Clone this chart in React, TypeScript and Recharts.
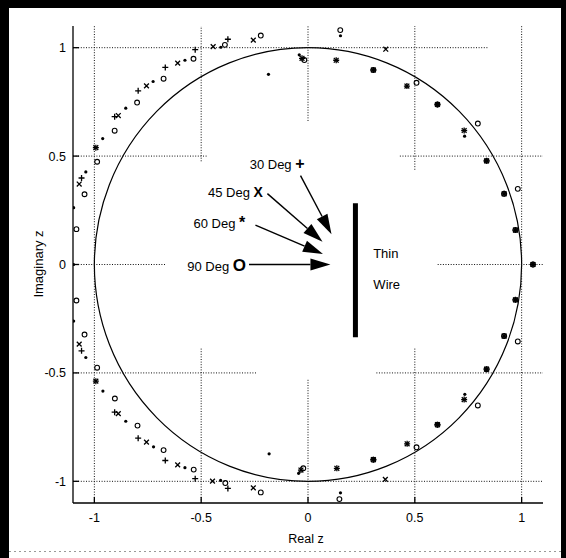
import React from 'react'
import { ScatterChart, Scatter, XAxis, YAxis, ReferenceLine, ReferenceArea, ReferenceDot } from 'recharts'

type Pt = { x: number; y: number }

const FONT = '"Liberation Sans", Arial, Helvetica, sans-serif'

const axisTicks = [-1, -0.5, 0, 0.5, 1]

// 30 degree incidence (+)
const poles30: Pt[] = [
  { x: -0.375, y: 1.039 }, { x: -0.528, y: 0.991 }, { x: -0.668, y: 0.909 }, { x: -0.795, y: 0.801 },
  { x: -0.905, y: 0.682 }, { x: -0.993, y: 0.539 }, { x: -1.06, y: 0.399 }, { x: -0.028, y: 0.951 },
  { x: 0.132, y: 0.942 }, { x: 0.306, y: 0.897 }, { x: 0.463, y: 0.823 }, { x: 0.606, y: 0.738 },
  { x: 0.731, y: 0.618 }, { x: 0.836, y: 0.478 }, { x: 0.918, y: 0.326 }, { x: 0.971, y: 0.159 },
  { x: 1.053, y: 0 },
  { x: -0.375, y: -1.033 }, { x: -0.528, y: -0.988 }, { x: -0.668, y: -0.904 }, { x: -0.795, y: -0.801 },
  { x: -0.905, y: -0.681 }, { x: -0.993, y: -0.538 }, { x: -1.06, y: -0.398 }, { x: -0.033, y: -0.948 },
  { x: 0.135, y: -0.94 }, { x: 0.306, y: -0.9 }, { x: 0.464, y: -0.827 }, { x: 0.606, y: -0.739 },
  { x: 0.731, y: -0.623 }, { x: 0.836, y: -0.483 }, { x: 0.918, y: -0.33 }, { x: 0.971, y: -0.163 },
]

// 45 degree incidence (x)
const poles45: Pt[] = [
  { x: -0.256, y: 1.035 }, { x: -0.444, y: 1.005 }, { x: -0.61, y: 0.929 }, { x: -0.756, y: 0.824 },
  { x: -0.888, y: 0.687 }, { x: -0.993, y: 0.539 }, { x: -1.071, y: 0.371 }, { x: -0.028, y: 0.951 },
  { x: 0.132, y: 0.942 }, { x: 0.364, y: 0.993 }, { x: 0.306, y: 0.897 }, { x: 0.463, y: 0.823 },
  { x: 0.606, y: 0.738 }, { x: 0.731, y: 0.618 }, { x: 0.836, y: 0.478 }, { x: 0.918, y: 0.326 },
  { x: 0.971, y: 0.159 }, { x: 1.053, y: 0 },
  { x: -0.256, y: -1.03 }, { x: -0.447, y: -0.999 }, { x: -0.61, y: -0.924 }, { x: -0.756, y: -0.819 },
  { x: -0.888, y: -0.688 }, { x: -0.993, y: -0.538 }, { x: -1.071, y: -0.367 }, { x: -0.033, y: -0.948 },
  { x: 0.135, y: -0.94 }, { x: 0.362, y: -0.991 }, { x: 0.306, y: -0.9 }, { x: 0.464, y: -0.827 },
  { x: 0.606, y: -0.739 }, { x: 0.731, y: -0.623 }, { x: 0.836, y: -0.483 }, { x: 0.918, y: -0.33 },
  { x: 0.971, y: -0.163 },
]

// 60 degree incidence (*)
const poles60: Pt[] = [
  { x: -0.185, y: 0.877 }, { x: -0.408, y: 1.002 }, { x: -0.576, y: 0.942 }, { x: -0.725, y: 0.844 },
  { x: -0.853, y: 0.721 }, { x: -0.961, y: 0.581 }, { x: -1.04, y: 0.427 }, { x: -1.097, y: 0.262 },
  { x: -1.097, y: 0 }, { x: -0.041, y: 0.967 }, { x: 0.152, y: 1.055 }, { x: 0.306, y: 0.897 },
  { x: 0.463, y: 0.823 }, { x: 0.606, y: 0.738 }, { x: 0.733, y: 0.592 }, { x: 0.836, y: 0.478 },
  { x: 0.918, y: 0.326 }, { x: 0.971, y: 0.159 }, { x: 1.053, y: 0 },
  { x: -0.182, y: -0.873 }, { x: -0.409, y: -0.996 }, { x: -0.576, y: -0.937 }, { x: -0.723, y: -0.841 },
  { x: -0.853, y: -0.723 }, { x: -0.96, y: -0.584 }, { x: -1.04, y: -0.429 }, { x: -1.097, y: -0.261 },
  { x: -0.044, y: -0.963 }, { x: 0.152, y: -1.053 }, { x: 0.306, y: -0.9 }, { x: 0.464, y: -0.827 },
  { x: 0.606, y: -0.739 }, { x: 0.734, y: -0.599 }, { x: 0.836, y: -0.483 }, { x: 0.918, y: -0.33 },
  { x: 0.971, y: -0.163 },
]

// 90 degree incidence (o)
const poles90: Pt[] = [
  { x: -0.221, y: 1.056 }, { x: -0.389, y: 1.013 }, { x: -0.536, y: 0.949 }, { x: -0.676, y: 0.857 },
  { x: -0.8, y: 0.747 }, { x: -0.905, y: 0.617 }, { x: -0.987, y: 0.474 }, { x: -1.046, y: 0.324 },
  { x: -1.084, y: 0.163 }, { x: -0.017, y: 0.943 }, { x: 0.151, y: 1.081 }, { x: 0.508, y: 0.838 },
  { x: 0.795, y: 0.65 }, { x: 0.982, y: 0.349 }, { x: 1.053, y: 0 },
  { x: 0.306, y: 0.897 }, { x: 0.606, y: 0.738 }, { x: 0.836, y: 0.478 }, { x: 0.918, y: 0.326 },
  { x: 0.971, y: 0.159 },
  { x: -1.084, y: -0.166 }, { x: -1.046, y: -0.323 }, { x: -0.987, y: -0.476 }, { x: -0.904, y: -0.618 },
  { x: -0.798, y: -0.743 }, { x: -0.676, y: -0.856 }, { x: -0.535, y: -0.946 }, { x: -0.387, y: -1.008 },
  { x: -0.221, y: -1.051 }, { x: -0.022, y: -0.94 }, { x: 0.147, y: -1.082 }, { x: 0.508, y: -0.843 },
  { x: 0.795, y: -0.65 }, { x: 0.982, y: -0.355 },
  { x: 0.306, y: -0.9 }, { x: 0.606, y: -0.739 }, { x: 0.836, y: -0.483 }, { x: 0.918, y: -0.33 },
  { x: 0.971, y: -0.163 },
]

// visible pieces of the dotted grid
const hGrid = [
  { y: 1, x1: -1.1, x2: 0.84 },
  { y: 0.5, x1: -1.1, x2: -0.47 }, { y: 0.5, x1: 0.43, x2: 1.1 },
  { y: 0, x1: -1.1, x2: -0.665 }, { y: 0, x1: 0.607, x2: 1.1 },
  { y: -0.5, x1: -1.1, x2: -0.237 }, { y: -0.5, x1: 0.32, x2: 1.1 },
  { y: -1, x1: -1.1, x2: 1.1 },
]
const vGrid = [
  { x: -1, y1: -1.1, y2: 1.1 },
  { x: -0.5, y1: 0.476, y2: 1.1 }, { x: -0.5, y1: -1.1, y2: -0.383 },
  { x: 0, y1: 0.662, y2: 1.1 }, { x: 0, y1: -1.1, y2: -0.53 },
  { x: 0.5, y1: 0.437, y2: 1.1 }, { x: 0.5, y1: -1.1, y2: -0.383 },
  { x: 1, y1: -1.1, y2: 1.1 },
]

// annotation arrows: tail -> head
const arrows = [
  { x1: -0.035, y1: 0.41, x2: 0.11, y2: 0.14 },
  { x1: -0.19, y1: 0.327, x2: 0.068, y2: 0.105 },
  { x1: -0.246, y1: 0.182, x2: 0.07, y2: 0.048 },
  { x1: -0.276, y1: 0, x2: 0.105, y2: 0 },
]

const angleLabels = [
  { text: '30 Deg', glyph: '+', size: 16, x: -0.273, y: 0.462 },
  { text: '45 Deg', glyph: 'X', size: 14, x: -0.468, y: 0.333 },
  { text: '60 Deg', glyph: '*', size: 16, x: -0.536, y: 0.189 },
  { text: '90 Deg', glyph: 'O', size: 17, x: -0.565, y: -0.007 },
]

const wireLabels = [
  { text: 'Thin', x: 0.305, y: 0.05 },
  { text: 'Wire', x: 0.306, y: -0.09 },
]

const wire = { x: 0.222, top: 0.282, bottom: -0.336 }

const PlusMark = (p: any) => (
  <path d={`M${p.cx - 3},${p.cy}h6M${p.cx},${p.cy - 3}v6`} stroke="#000" strokeWidth={1.3} fill="none" />
)
const CrossMark = (p: any) => (
  <path
    d={`M${p.cx - 2.4},${p.cy - 2.4}l4.8,4.8M${p.cx - 2.4},${p.cy + 2.4}l4.8,-4.8`}
    stroke="#000"
    strokeWidth={1.3}
    fill="none"
  />
)
const StarMark = (p: any) => <circle cx={p.cx} cy={p.cy} r={1.6} fill="#000" />
const RingMark = (p: any) => <circle cx={p.cx} cy={p.cy} r={2.4} fill="none" stroke="#000" strokeWidth={1.1} />

const Arrow = (p: any) => {
  const dx = p.x2 - p.x1
  const dy = p.y2 - p.y1
  const len = Math.sqrt(dx * dx + dy * dy)
  const ux = dx / len
  const uy = dy / len
  const head = 20
  const half = 6
  const bx = p.x2 - ux * head
  const by = p.y2 - uy * head
  return (
    <g>
      <line x1={p.x1} y1={p.y1} x2={bx} y2={by} stroke="#000" strokeWidth={1.4} />
      <polygon
        points={`${p.x2},${p.y2} ${bx - uy * half},${by + ux * half} ${bx + uy * half},${by - ux * half}`}
        fill="#000"
      />
    </g>
  )
}

const tickStyle = { fontSize: 12.5, fill: '#000', fontFamily: FONT }

export default function App() {
  return (
    <div style={{ position: 'absolute', left: 0, top: 0, width: 566, height: 558, background: '#fff' }}>
      <ScatterChart width={566} height={558} margin={{ top: 26, right: 23, bottom: 25, left: 43 }}>
        <XAxis
          xAxisId="b"
          type="number"
          dataKey="x"
          domain={[-1.1, 1.1]}
          allowDataOverflow
          ticks={axisTicks}
          height={30}
          tickSize={-6}
          tickMargin={16}
          stroke="#000"
          strokeWidth={1.3}
          tick={tickStyle}
        />
        <XAxis
          xAxisId="t"
          orientation="top"
          type="number"
          dataKey="x"
          domain={[-1.1, 1.1]}
          allowDataOverflow
          ticks={axisTicks}
          height={0}
          tickSize={-6}
          tick={false}
          stroke="#000"
          strokeWidth={1.3}
        />
        <YAxis
          yAxisId="l"
          type="number"
          dataKey="y"
          domain={[-1.1, 1.1]}
          allowDataOverflow
          ticks={axisTicks}
          width={30}
          tickSize={-6}
          tickMargin={13}
          stroke="#000"
          strokeWidth={1.3}
          tick={tickStyle}
        />
        <YAxis
          yAxisId="r"
          orientation="right"
          type="number"
          dataKey="y"
          domain={[-1.1, 1.1]}
          allowDataOverflow
          ticks={axisTicks}
          width={0}
          tickSize={-6}
          tick={false}
          stroke="#000"
          strokeWidth={1.3}
        />

        {hGrid.map((g, i) => (
          <ReferenceLine
            key={'h' + i}
            xAxisId="b"
            yAxisId="l"
            ifOverflow="visible"
            segment={[{ x: g.x1, y: g.y }, { x: g.x2, y: g.y }]}
            stroke="#111"
            strokeWidth={1}
            strokeDasharray="1 1.6"
          />
        ))}
        {vGrid.map((g, i) => (
          <ReferenceLine
            key={'v' + i}
            xAxisId="b"
            yAxisId="l"
            ifOverflow="visible"
            segment={[{ x: g.x, y: g.y1 }, { x: g.x, y: g.y2 }]}
            stroke="#111"
            strokeWidth={1}
            strokeDasharray="1 1.6"
          />
        ))}

        {/* unit circle */}
        <ReferenceArea
          xAxisId="b"
          yAxisId="l"
          x1={-1}
          x2={1}
          y1={-1}
          y2={1}
          ifOverflow="visible"
          shape={(p: any) => (
            <ellipse
              cx={p.x + p.width / 2}
              cy={p.y + p.height / 2}
              rx={Math.abs(p.width) / 2}
              ry={Math.abs(p.height) / 2}
              fill="none"
              stroke="#000"
              strokeWidth={1.2}
            />
          )}
        />

        {/* thin wire */}
        <ReferenceLine
          xAxisId="b"
          yAxisId="l"
          ifOverflow="visible"
          segment={[{ x: wire.x, y: wire.top }, { x: wire.x, y: wire.bottom }]}
          stroke="#000"
          strokeWidth={5}
        />

        {arrows.map((a, i) => (
          <ReferenceLine
            key={'a' + i}
            xAxisId="b"
            yAxisId="l"
            ifOverflow="visible"
            segment={[{ x: a.x1, y: a.y1 }, { x: a.x2, y: a.y2 }]}
            shape={Arrow}
          />
        ))}

        {angleLabels.map((l, i) => (
          <ReferenceDot
            key={'l' + i}
            xAxisId="b"
            yAxisId="l"
            x={l.x}
            y={l.y}
            r={1}
            ifOverflow="visible"
            shape={(p: any) => (
              <text x={p.cx} y={p.cy} dy="0.36em" fontFamily={FONT} fontSize={13} fill="#000">
                {l.text}{' '}
                <tspan fontWeight="bold" fontSize={l.size}>
                  {l.glyph}
                </tspan>
              </text>
            )}
          />
        ))}
        {wireLabels.map((l, i) => (
          <ReferenceDot
            key={'w' + i}
            xAxisId="b"
            yAxisId="l"
            x={l.x}
            y={l.y}
            r={1}
            ifOverflow="visible"
            shape={(p: any) => (
              <text x={p.cx} y={p.cy} dy="0.36em" fontFamily={FONT} fontSize={13} fill="#000">
                {l.text}
              </text>
            )}
          />
        ))}

        <Scatter xAxisId="b" yAxisId="l" data={poles90} shape={RingMark} isAnimationActive={false} />
        <Scatter xAxisId="b" yAxisId="l" data={poles60} shape={StarMark} isAnimationActive={false} />
        <Scatter xAxisId="b" yAxisId="l" data={poles45} shape={CrossMark} isAnimationActive={false} />
        <Scatter xAxisId="b" yAxisId="l" data={poles30} shape={PlusMark} isAnimationActive={false} />
      </ScatterChart>

      {/* scanned page frame and axis titles */}
      <svg width={566} height={558} style={{ position: 'absolute', left: 0, top: 0, pointerEvents: 'none' }}>
        <rect x={0} y={0} width={566} height={8} fill="#000" />
        <rect x={0} y={0} width={9} height={558} fill="#000" />
        <rect x={561} y={0} width={5} height={558} fill="#000" />
        <line x1={9} y1={551.5} x2={561} y2={551.5} stroke="#999" strokeDasharray="2 3" />
        <text
          x={38.6}
          y={264}
          transform="rotate(-90 38.6 264)"
          textAnchor="middle"
          dy="0.36em"
          fontFamily={FONT}
          fontSize={13}
          fill="#000"
        >
          Imaginary z
        </text>
        <text x={306} y={538} textAnchor="middle" dy="0.36em" fontFamily={FONT} fontSize={12.5} fill="#000">
          Real z
        </text>
      </svg>
    </div>
  )
}
